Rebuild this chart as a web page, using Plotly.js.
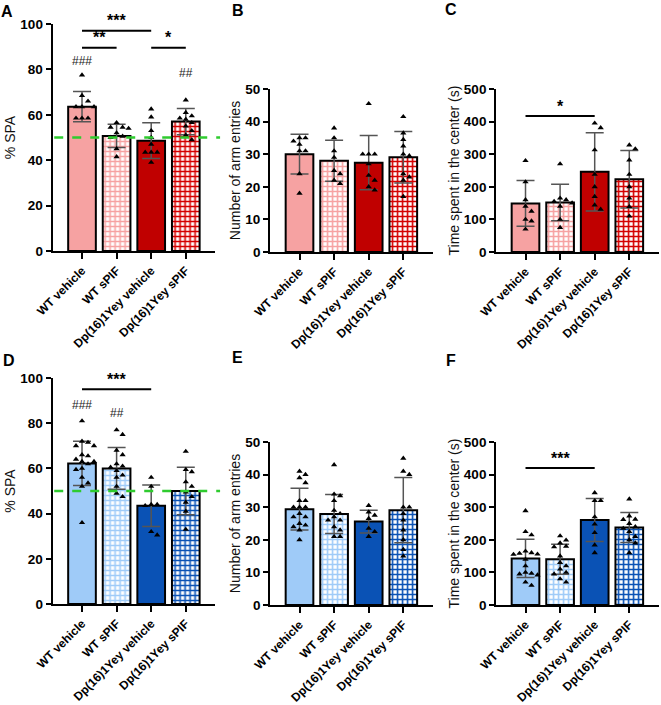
<!DOCTYPE html>
<html><head><meta charset="utf-8">
<script src="https://cdn.plot.ly/plotly-3.0.1.min.js"></script>
<style>html,body{margin:0;padding:0;background:#fff;}#chart{width:661px;height:705px;}</style>
</head><body><div id="chart"></div>
<script>
// ---------------- DATA ----------------
const categories = ['WT vehicle', 'WT sPIF', 'Dp(16)1Yey vehicle', 'Dp(16)1Yey sPIF'];

// Panel A: % SPA (red cohort)
const meanA = [63.6, 50.7, 48.6, 57.0];
const sdA   = [6.7, 5.1, 7.9, 5.8];
const ptsA = [
  [77.5, 68.5, 66, 63.5, 63.5, 63.5, 58.5, 58.5, 58.5],
  [56.5, 54.5, 54.5, 54, 52, 50.5, 50, 45, 41.5],
  [62.5, 59, 53, 50, 47, 43.5, 43.5, 43.5, 39],
  [66.5, 61, 59.5, 58.5, 58, 56.5, 55, 53, 51, 49]
];
// Panel B: number of arm entries (red cohort)
const meanB = [30.0, 28.0, 27.4, 29.1];
const sdB   = [6.1, 6.3, 8.3, 7.9];
const ptsB = [
  [35, 35, 34, 33, 31, 31, 24, 18],
  [38, 35, 31, 29, 25, 24, 22, 21],
  [45.5, 30, 30, 30, 27, 23.5, 22, 20, 19],
  [41.5, 36.5, 34.5, 32.5, 30, 29.5, 24, 23, 22, 17]
];
// Panel C: time spent in the center (red cohort)
const meanC = [149, 152, 246, 223];
const sdC   = [70, 56, 120, 88];
const ptsC = [
  [280, 215, 160, 140, 125, 100, 95, 70],
  [270, 165, 160, 155, 150, 140, 100, 75],
  [395, 381, 313, 238, 200, 170, 144, 131],
  [328, 316, 282, 238, 200, 165, 139, 110]
];
// Panel D: % SPA (blue cohort)
const meanD = [62.2, 60.0, 43.5, 50.0];
const sdD   = [9.8, 9.2, 9.2, 10.5];
const ptsD = [
  [81, 72, 71.5, 70, 70, 66, 65.5, 64, 63, 63, 62, 60, 59.5, 56, 53.5, 52, 36],
  [77, 75, 68, 66, 62, 61, 60.5, 59, 57, 56, 52, 49, 47.5],
  [56, 52, 44, 44, 43.5, 32, 30.5],
  [67.5, 59.5, 58.5, 54, 52, 49.5, 47.5, 45, 41, 33]
];
// Panel E: number of arm entries (blue cohort)
const meanE = [29.4, 27.9, 25.6, 29.1];
const sdE   = [6.4, 6.0, 3.5, 10.0];
const ptsE = [
  [41, 40, 39, 37.5, 32, 32, 30, 30, 30, 28, 27, 27, 25, 24.5, 24, 23, 20],
  [43, 34, 33.5, 32, 29, 28, 27, 26, 26, 24, 23, 21, 21],
  [30.5, 28.5, 27.5, 26.5, 23.5, 22.5, 21],
  [45, 41, 40, 30, 30, 28, 26, 23, 20, 17, 15]
];
// Panel F: time spent in the center (blue cohort)
const meanF = [143, 140, 261, 238];
const sdF   = [59, 46, 66, 46];
const ptsF = [
  [289, 225, 215, 165, 160, 158, 156, 155, 140, 120, 100, 97, 95, 92, 70, 60],
  [212, 199, 190, 180, 178, 150, 130, 120, 110, 100, 95, 80, 70],
  [344, 320, 320, 270, 248, 222, 184, 160],
  [325, 273, 263, 262, 250, 240, 235, 225, 210, 200, 190, 160]
];

// significance brackets: [from group, to group, level, label]
const sigA = [[0, 2, 97, '***'], [0, 1, 89.5, '**'], [2, 3, 89.5, '*']];
const sigC = [[0, 2, 417, '*']];
const sigD = [[0, 2, 95, '***']];
const sigF = [[0, 2, 420, '***']];
// hash marks vs chance: [group, level, label]
const hashA = [[0, 83.7, '###'], [3, 78.4, '##']];
const hashD = [[0, 88, '###'], [1, 84.5, '##']];
const chanceLevel = 50;

// ---------------- STYLE / LAYOUT ----------------
const W = 661, H = 705;
const redCols  = ['#F6A2A2', '#F6A2A2', '#C00000', '#D40000'];
const blueCols = ['#9FCBF8', '#9FCBF8', '#0A52B5', '#0A52B5'];
const patt = ['', '+', '', '+'];
const XR = [-0.85, 3.85];
const FONT = 'Arial, Liberation Sans, sans-serif';

const panels = [
  {key:'A', mean:meanA, sd:sdA, pts:ptsA, cols:redCols,  px:[52.6, 215.2], py:[251, 24],  yr:[0,100], dt:20, title:'% SPA', sig:sigA, hash:hashA, chance:true, lab:[7,11]},
  {key:'B', mean:meanB, sd:sdB, pts:ptsB, cols:redCols,  px:[270.1, 432.7], py:[252, 89], yr:[0,50],  dt:10, title:'Number of arm entries', sig:[], hash:[], lab:[238,10]},
  {key:'C', mean:meanC, sd:sdC, pts:ptsC, cols:redCols,  px:[496.1, 658.7], py:[252, 89], yr:[0,500], dt:100, title:'Time spent in the center (s)', sig:sigC, hash:[], lab:[451,9]},
  {key:'D', mean:meanD, sd:sdD, pts:ptsD, cols:blueCols, px:[52.6, 215.2], py:[604, 378], yr:[0,100], dt:20, title:'% SPA', sig:sigD, hash:hashD, chance:true, lab:[9,360]},
  {key:'E', mean:meanE, sd:sdE, pts:ptsE, cols:blueCols, px:[270.1, 432.7], py:[605, 442], yr:[0,50],  dt:10, title:'Number of arm entries', sig:[], hash:[], lab:[237,358]},
  {key:'F', mean:meanF, sd:sdF, pts:ptsF, cols:blueCols, px:[496.1, 658.7], py:[605, 442], yr:[0,500], dt:100, title:'Time spent in the center (s)', sig:sigF, hash:[], lab:[451,360]}
];

function swarm(vals, center, pxPerX, pxPerY, r) {
  const order = vals.map((v, i) => i).sort((a, b) => vals[b] - vals[a]);
  const placed = [];
  const xs = new Array(vals.length);
  order.forEach(i => {
    const yp = vals[i] * pxPerY;
    for (let k = 0; k < 60; k++) {
      const off = (k === 0 ? 0 : (k % 2 ? 1 : -1) * Math.ceil(k / 2)) * r;
      if (placed.every(p => Math.hypot(p.x - off, p.y - yp) >= r)) {
        placed.push({x: off, y: yp});
        xs[i] = center + off / pxPerX;
        break;
      }
    }
  });
  return xs;
}

const traces = [];
const layout = {
  width: W, height: H, margin: {l:0, r:0, t:0, b:0},
  paper_bgcolor: '#fff', plot_bgcolor: 'rgba(0,0,0,0)',
  showlegend: false, shapes: [], annotations: [],
  font: {family: FONT, color: '#000'}
};

panels.forEach((p, k) => {
  const n = k === 0 ? '' : String(k + 1);
  const xa = 'x' + n, ya = 'y' + n;
  const pxPerX = (p.px[1] - p.px[0]) / (XR[1] - XR[0]);
  const pxPerY = (p.py[0] - p.py[1]) / (p.yr[1] - p.yr[0]);

  traces.push({
    type: 'bar', x: [0, 1, 2, 3], y: p.mean, width: 0.8, xaxis: xa, yaxis: ya,
    marker: {
      color: p.cols, line: {color: '#000', width: 2},
      pattern: {shape: patt, fgcolor: '#ffffff', bgcolor: p.cols, size: 5, solidity: 0.55, fillmode: 'replace'}
    },
    error_y: {type: 'data', array: p.sd, visible: true, color: '#555', thickness: 1.5, width: 9},
    hoverinfo: 'skip'
  });
  p.pts.forEach((vals, g) => {
    traces.push({
      type: 'scatter', mode: 'markers', xaxis: xa, yaxis: ya,
      x: swarm(vals, g, pxPerX, pxPerY, 6), y: vals,
      marker: {symbol: 'triangle-up', size: 5.5, color: '#000'},
      cliponaxis: false, hoverinfo: 'skip'
    });
  });

  layout['xaxis' + n] = {
    domain: [p.px[0] / W, p.px[1] / W], range: XR, anchor: ya,
    showline: true, linewidth: 2, linecolor: '#000', ticks: 'outside', ticklen: 6, tickwidth: 2, tickcolor: '#000',
    tickvals: [0, 1, 2, 3], ticktext: categories, tickangle: -45,
    tickfont: {family: FONT, size: 12, color: '#000', weight: 'bold'},
    showgrid: false, zeroline: false, fixedrange: true
  };
  layout['yaxis' + n] = {
    domain: [1 - p.py[0] / H, 1 - p.py[1] / H], range: p.yr, anchor: xa, dtick: p.dt,
    showline: true, linewidth: 2, linecolor: '#000', ticks: 'outside', ticklen: 5, tickwidth: 2, tickcolor: '#000',
    tickfont: {family: FONT, size: 13.5, color: '#000', weight: 'bold'},
    title: {text: p.title, font: {family: FONT, size: 14, color: '#111'}, standoff: 1},
    showgrid: false, zeroline: false, fixedrange: true
  };

  if (p.chance) {
    layout.shapes.push({type: 'line', xref: xa + ' domain', yref: ya, x0: 0.01, x1: 1.03, y0: chanceLevel, y1: chanceLevel,
      line: {color: '#2FCB2F', width: 2.5, dash: 'dash'}, layer: 'above'});
  }
  p.sig.forEach(s => {
    layout.shapes.push({type: 'line', xref: xa, yref: ya, x0: s[0], x1: s[1], y0: s[2], y1: s[2],
      line: {color: '#000', width: 2}});
    layout.annotations.push({xref: xa, yref: ya, x: (s[0] + s[1]) / 2, y: s[2], text: s[3], showarrow: false,
      yanchor: 'middle', yshift: 10, font: {family: FONT, size: 16, color: '#000', weight: 'bold'}});
  });
  p.hash.forEach(h => {
    layout.annotations.push({xref: xa, yref: ya, x: h[0], y: h[1], text: h[2], showarrow: false,
      font: {family: FONT, size: 12, color: '#222'}});
  });
  layout.annotations.push({xref: 'paper', yref: 'paper', x: p.lab[0] / W, y: 1 - p.lab[1] / H, text: p.key,
    showarrow: false, xanchor: 'center', yanchor: 'middle', font: {family: FONT, size: 16, color: '#000', weight: 'bold'}});
});

Plotly.newPlot('chart', traces, layout, {staticPlot: true, displayModeBar: false});
</script>
</body></html>
